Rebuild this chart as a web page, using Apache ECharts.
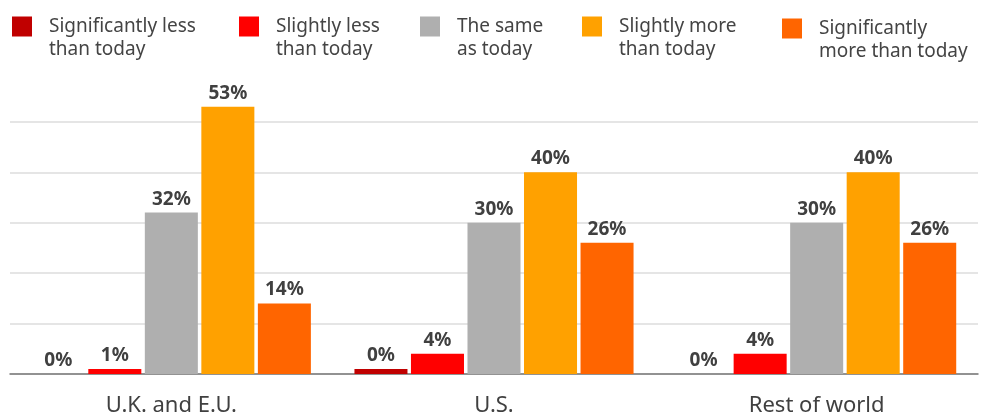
<!DOCTYPE html>
<html><head><meta charset="utf-8">
<script src="https://cdn.jsdelivr.net/npm/echarts@6/dist/echarts.min.js"></script>
<style>html,body{margin:0;padding:0;background:#fff}#c{width:982px;height:417px}</style>
</head><body><div id="c"></div>
<script>
const categories = ['U.K. and E.U.', 'U.S.', 'Rest of world'];
const seriesNames = ['Significantly less\nthan today', 'Slightly less\nthan today', 'The same\nas today', 'Slightly more\nthan today', 'Significantly\nmore than today'];
const sigLess = [0, 1, 0];
const slightLess = [1, 4, 4];
const same = [32, 30, 30];
const slightMore = [53, 40, 40];
const sigMore = [14, 26, 26];
// labels as printed in the source (rounded figures)
const sigLessLabels = ['0%', '0%', '0%'];
const slightLessLabels = ['1%', '4%', '4%'];
const sameLabels = ['32%', '30%', '30%'];
const slightMoreLabels = ['53%', '40%', '40%'];
const sigMoreLabels = ['14%', '26%', '26%'];

const values = [sigLess, slightLess, same, slightMore, sigMore];
const labelSets = [sigLessLabels, slightLessLabels, sameLabels, slightMoreLabels, sigMoreLabels];
const colors = ['#c00000', '#ff0000', '#afafaf', '#ffa100', '#ff6500'];
const legendLeft = [12, 239, 420, 582, 782];
const legendTop = [-8, -8, -8, -8, -6];
const FONT = 'Noto Sans';

const chart = echarts.init(document.getElementById('c'), null, {renderer: 'canvas'});
const series = values.map((v, i) => ({
  name: seriesNames[i],
  type: 'bar',
  data: v,
  itemStyle: {color: colors[i]},
  barGap: '6.6%',
  barCategoryGap: '13.5%',
  label: {
    show: true, position: 'top', distance: 4,
    formatter: p => labelSets[i][p.dataIndex],
    fontFamily: FONT, fontWeight: 'bold', fontSize: 19, color: '#404040'
  }
}));
const legends = seriesNames.map((n, i) => ({
  data: [n], left: legendLeft[i], top: legendTop[i], orient: 'horizontal', padding: 0,
  itemWidth: 20, itemHeight: 20, itemGap: 0, icon: 'rect', selectedMode: false,
  formatter: name => '\n' + name,
  textStyle: {fontFamily: FONT, fontSize: 19, color: '#444', lineHeight: 23, padding: [0, 0, 0, 12]}
}));
chart.setOption({
  animation: false,
  color: colors,
  legend: legends,
  grid: {left: 10, right: 4, top: 71.4, bottom: 42, containLabel: false},
  xAxis: {
    type: 'category', data: categories,
    axisLine: {lineStyle: {color: '#777', width: 1.5}},
    axisTick: {show: false},
    axisLabel: {fontFamily: FONT, fontSize: 22, color: '#404040', margin: 21}
  },
  yAxis: {
    type: 'value', min: 0, max: 60, interval: 10,
    axisLabel: {show: false}, axisLine: {show: false}, axisTick: {show: false},
    splitLine: {lineStyle: {color: ['#ddd', '#ddd', '#ddd', '#ddd', '#ddd', '#ddd', 'rgba(0,0,0,0)'], width: 1.5}}
  },
  series: series
});
</script></body></html>
